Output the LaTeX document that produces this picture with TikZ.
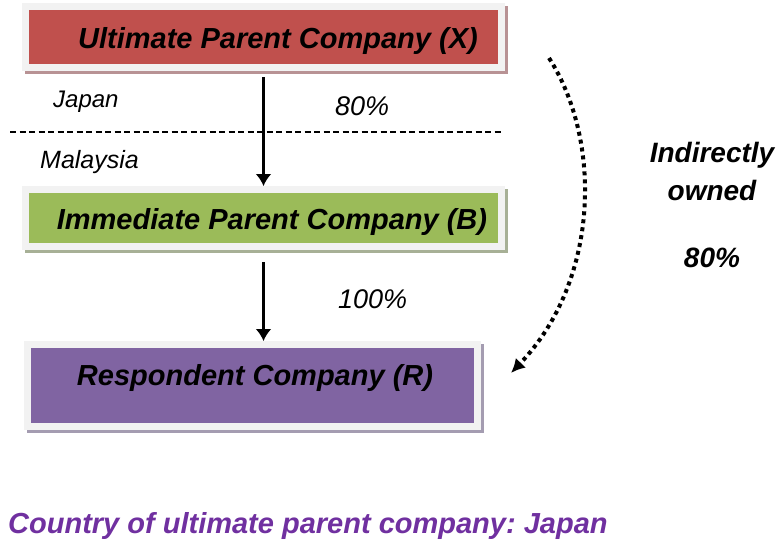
\documentclass[tikz,border=0pt]{standalone}
\usepackage{fontspec}
\setmainfont{Liberation Sans}
\frenchspacing
\usepackage{tikz}
\usetikzlibrary{calc,arrows.meta,positioning}
\definecolor{upcred}{HTML}{C0504D}
\definecolor{ipcgreen}{HTML}{9BBB59}
\definecolor{rcpurple}{HTML}{8064A2}
\definecolor{framegray}{HTML}{F2F2F2}
\definecolor{redshade}{HTML}{B89294}
\definecolor{greenshade}{HTML}{A7B096}
\definecolor{purpleshade}{HTML}{A49CB1}
\definecolor{captionpurple}{HTML}{7030A0}
\newcommand{\framewidth}{14pt}
\newcommand{\boxfont}{\fontsize{29}{34}\selectfont\bfseries\itshape}
\tikzstyle{company}=[rectangle, inner sep=0, outer sep=7pt]
\tikzstyle{framed}=[preaction={draw=#1, line width=\framewidth, transform canvas={shift={(3pt,-3pt)}}},
                    preaction={draw=framegray, line width=\framewidth}]
\tikzstyle{boxtext}=[inner sep=0, font=\boxfont]
\tikzstyle{country}=[inner sep=0, anchor=base west, font=\fontsize{24}{28}\selectfont\itshape]
\tikzstyle{share}=[inner sep=0, anchor=base west, font=\fontsize{27}{32}\selectfont\itshape]
\tikzstyle{indirect}=[inner sep=0, anchor=base, font=\fontsize{28}{33}\selectfont\bfseries\itshape]
\tikzstyle{arrow}=[-{Latex[length=12pt,width=16pt]}, line width=3.5pt]
\tikzstyle{dotarrow}=[-{Latex[length=14pt,width=14pt]}, line width=4pt, dash pattern=on 4pt off 4pt]

\begin{document}
\begin{tikzpicture}[x=1pt, y=-1pt]
  \useasboundingbox (0,0) rectangle (784,541);

  % boxes
  \node[company, framed=redshade, fill=upcred, minimum width=469pt, minimum height=54pt] (X) at (263.5,37) {};
  \node[company, framed=greenshade, fill=ipcgreen, minimum width=469pt, minimum height=50pt] (B) at (263.5,218) {};
  \node[company, framed=purpleshade, fill=rcpurple, minimum width=443pt, minimum height=75pt] (R) at (252.5,385.5) {};

  \node[boxtext] (Xtext) at (278,41) {Ultimate Parent Company (X)};
  \node[boxtext] (Btext) at (272,222) {Immediate Parent Company (B)};
  \node[boxtext] (Rtext) at (255,378) {Respondent Company (R)};

  % border between countries
  \coordinate (borderL) at (10,132);
  \coordinate (borderR) at (502,132);
  \draw[line width=1.5pt, dash pattern=on 6pt off 3.5pt] (borderL) -- (borderR);

  \node[country] (japan) at (53,107) {Japan};
  \node[country, font=\fontsize{25}{30}\selectfont\itshape] (malaysia) at (40,168) {Malaysia};

  \node[share] (XB) at (335,115) {80\%};
  \node[share] (BR) at (338,308) {100\%};

  % ownership
  \draw[arrow, shorten <=6pt] (X.south) -- (B.north);
  \draw[arrow, shorten <=12pt] (B.south) -- (B.south |- R.north);

  % indirect ownership
  \coordinate (indstart) at (549,58);
  \coordinate (indend) at (511,373);
  \draw[dotarrow] (indstart) .. controls (602,140) and (600,280) .. (indend);

  \node[indirect] (ind1) at (712,162) {Indirectly};
  \node[indirect] (ind2) at (712,200) {owned};
  \node[indirect] (ind3) at (712,267) {80\%};

  \node[inner sep=0, anchor=base west, text=captionpurple, font=\fontsize{29}{34}\selectfont\bfseries\itshape] (caption) at (8,533) {Country of ultimate parent company: Japan};
\end{tikzpicture}
\end{document}
